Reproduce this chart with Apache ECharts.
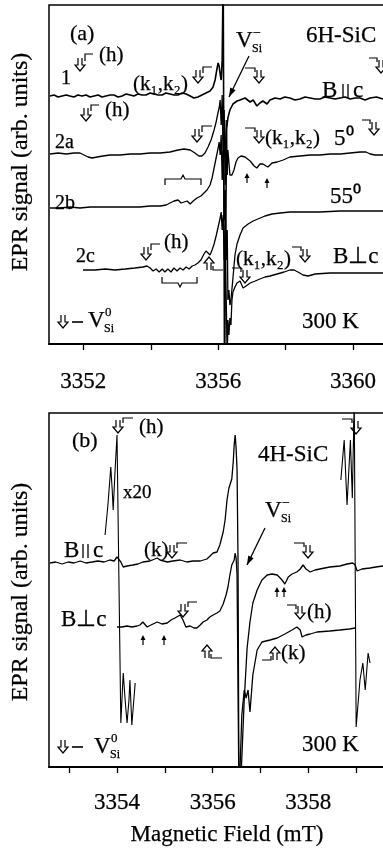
<!DOCTYPE html>
<html><head><meta charset="utf-8">
<script src="https://cdn.jsdelivr.net/npm/echarts@6.0.0/dist/echarts.min.js"></script>
<style>html,body{margin:0;padding:0;background:#fff;overflow:hidden;}#c{width:383px;height:852px;}</style>
</head><body><div id="c"></div>
<script>
// ---------- axis ticks / labels (mT) ----------
const TICKS_A = [3352, 3354, 3356, 3358, 3360];
const LABELS_A = [3352, 3356, 3360];
const TICKS_B = [3353, 3354, 3355, 3356, 3357, 3358, 3359];
const LABELS_B = [3354, 3356, 3358];

// ---------- panel (a) 6H-SiC : [field mT, signal arb.] ----------
const trace1 = [[3351.01,0],[3351.13,1],[3351.25,-1],[3351.37,0],[3351.49,1],[3351.60,0],[3351.72,-1],[3351.84,1],[3351.96,0],[3352.08,1],[3352.20,-1],[3352.32,0],[3352.44,1],[3352.55,-1],[3352.67,0],[3352.79,1],[3352.91,1],[3353.03,-1],[3353.15,0],[3353.27,2],[3353.39,1],[3353.50,0],[3353.62,2],[3353.74,1],[3353.86,1],[3353.98,3],[3354.10,2],[3354.22,1],[3354.34,1],[3354.45,3],[3354.57,2],[3354.69,1],[3354.81,1],[3354.93,3],[3355.05,2],[3355.17,0],[3355.28,-2],[3355.40,-1],[3355.52,1],[3355.64,3],[3355.76,5],[3355.85,9],[3355.91,16],[3355.97,28],[3356.00,33],[3356.03,30],[3356.06,22],[3356.09,16],[3356.12,36],[3356.15,126],[3356.19,-284],[3356.25,-34],[3356.29,-22],[3356.35,-14],[3356.44,-8],[3356.56,-5],[3356.65,-4],[3356.80,-2],[3356.95,-6],[3357.04,-4],[3357.15,-10],[3357.24,-7],[3357.33,-5],[3357.45,-8],[3357.54,-4],[3357.69,-2],[3357.84,-3],[3357.98,-1],[3358.13,-2],[3358.28,-4],[3358.43,-3],[3358.58,-1],[3358.73,-2],[3358.88,-3],[3359.02,-3],[3359.17,-1],[3359.32,-2],[3359.47,-3],[3359.62,-2],[3359.77,-1],[3359.92,-3],[3360.07,-2],[3360.21,-2],[3360.36,-4],[3360.51,-2],[3360.70,-1],[3360.89,-3],[3361.04,-2]];
const trace2a = [[3351.01,0],[3351.25,1],[3351.49,0],[3351.72,1],[3351.90,1],[3352.02,-1],[3352.14,-3],[3352.26,-4],[3352.41,-3],[3352.58,-2],[3352.79,-1],[3353.09,-1],[3353.39,0],[3353.68,0],[3353.98,1],[3354.28,1],[3354.57,2],[3354.81,4],[3354.99,5],[3355.17,4],[3355.31,1],[3355.43,-2],[3355.52,-2],[3355.61,1],[3355.70,7],[3355.79,14],[3355.88,24],[3355.94,32],[3356.00,42],[3356.03,46],[3356.06,54],[3356.09,29],[3356.12,59],[3356.15,-16],[3356.18,44],[3356.21,-31],[3356.24,34],[3356.27,-21],[3356.29,4],[3356.35,-21],[3356.41,-21],[3356.47,-16],[3356.53,-8],[3356.59,-4],[3356.68,-2],[3356.80,-3],[3356.95,-7],[3357.07,-12],[3357.15,-14],[3357.24,-10],[3357.33,-10],[3357.42,-12],[3357.48,-13],[3357.60,-9],[3357.75,-8],[3357.93,-6],[3358.13,-3],[3358.43,-2],[3358.73,-1],[3359.02,-1],[3359.32,0],[3359.62,0],[3359.92,1],[3360.21,2],[3360.39,2],[3360.51,0],[3360.66,-1],[3360.89,-1],[3361.04,-1]];
const trace2b = [[3351.01,-1],[3351.31,-1],[3351.61,0],[3351.90,-1],[3352.20,0],[3352.50,0],[3353.09,0],[3353.68,0],[3353.98,1],[3354.28,1],[3354.46,2],[3354.57,4],[3354.69,6],[3354.81,7],[3354.90,4],[3354.99,5],[3355.08,6],[3355.17,3],[3355.26,6],[3355.37,9],[3355.49,11],[3355.58,14],[3355.67,17],[3355.76,22],[3355.82,29],[3355.88,39],[3355.94,49],[3356.00,59],[3356.03,65],[3356.06,52],[3356.09,72],[3356.12,27],[3356.15,57],[3356.18,-13],[3356.21,17],[3356.24,-53],[3356.27,-23],[3356.29,-93],[3356.32,-83],[3356.35,-98],[3356.38,-93],[3356.44,-71],[3356.50,-48],[3356.56,-37],[3356.65,-28],[3356.74,-21],[3356.89,-17],[3357.04,-14],[3357.18,-12],[3357.39,-9],[3357.60,-7],[3357.84,-6],[3358.13,-5],[3358.43,-5],[3359.02,-5],[3359.62,-4],[3360.21,-4],[3360.89,-4],[3361.04,-4]];
const trace2c = [[3351.99,0],[3352.35,0],[3352.65,1],[3352.94,0],[3353.24,1],[3353.53,2],[3353.77,3],[3353.89,4],[3353.98,2],[3354.07,-1],[3354.16,1],[3354.25,-2],[3354.34,1],[3354.42,-2],[3354.51,1],[3354.60,-2],[3354.69,2],[3354.78,-1],[3354.87,2],[3354.96,0],[3355.05,3],[3355.14,1],[3355.23,4],[3355.31,5],[3355.40,7],[3355.49,10],[3355.58,16],[3355.64,19],[3355.70,17],[3355.76,15],[3355.82,20],[3355.88,26],[3355.94,34],[3356.00,43],[3356.06,52],[3356.09,58],[3356.12,40],[3356.15,55],[3356.18,10],[3356.21,30],[3356.24,-30],[3356.27,-90],[3356.29,-50],[3356.32,-65],[3356.35,-48],[3356.38,-55],[3356.41,-30],[3356.44,-22],[3356.50,-17],[3356.56,-13],[3356.65,-11],[3356.74,-18],[3356.83,-16],[3356.95,-13],[3357.10,-11],[3357.24,-9],[3357.39,-7],[3357.54,-6],[3357.75,-4],[3357.96,-2],[3358.13,0],[3358.25,0],[3358.37,-2],[3358.52,-5],[3358.67,-6],[3358.88,-4],[3359.32,-3],[3359.92,-3],[3360.89,-3],[3361.04,-3]];

// ---------- panel (b) 4H-SiC ----------
const bPar = [[3352.60,0],[3352.72,1],[3352.85,-1],[3352.98,1],[3353.10,0],[3353.23,2],[3353.35,0],[3353.48,1],[3353.60,2],[3353.73,1],[3353.85,3],[3353.94,2],[3354.00,6],[3354.04,8],[3354.08,1],[3354.13,-4],[3354.21,-3],[3354.33,-2],[3354.44,-1],[3354.54,1],[3354.69,2],[3354.84,5],[3354.90,3],[3355.05,1],[3355.17,2],[3355.32,3],[3355.46,1],[3355.59,2],[3355.74,2],[3355.88,4],[3356.01,10],[3356.09,11],[3356.15,18],[3356.22,31],[3356.26,43],[3356.30,63],[3356.34,75],[3356.38,81],[3356.40,84],[3356.43,101],[3356.45,118],[3356.47,128],[3356.49,115],[3356.51,93],[3356.53,3],[3356.55,-237],[3356.59,-217],[3356.66,-137],[3356.72,-85],[3356.78,-59],[3356.84,-40],[3356.93,-27],[3357.03,-17],[3357.14,-12],[3357.24,-11],[3357.35,-12],[3357.45,-17],[3357.51,-21],[3357.58,-14],[3357.66,-11],[3357.76,-9],[3357.83,-6],[3357.89,-2],[3357.95,-6],[3358.04,-9],[3358.14,-7],[3358.24,-6],[3358.45,-4],[3358.66,-3],[3358.81,-1],[3358.93,0],[3358.98,-2],[3359.02,-8],[3359.12,-6],[3359.29,-5],[3359.41,-4],[3359.56,-3],[3359.67,-3]];
const insetLeft = [[3353.75,28],[3353.81,58],[3353.87,96],[3353.90,73],[3353.92,53],[3353.96,93],[3354.00,128],[3354.04,-17],[3354.08,-160],[3354.13,-110],[3354.17,-137],[3354.21,-160],[3354.25,-137],[3354.27,-117],[3354.31,-162],[3354.38,-120]];
const insetRight = [[3358.68,83],[3358.75,123],[3358.81,58],[3358.88,123],[3358.92,65],[3358.96,163],[3359.00,-164],[3359.04,-164],[3359.08,-117],[3359.14,-100],[3359.19,-127],[3359.25,-90],[3359.29,-100]];
const bPerp = [[3354.00,0],[3354.10,0],[3354.21,1],[3354.31,0],[3354.42,1],[3354.48,2],[3354.54,5],[3354.63,0],[3354.71,2],[3354.84,5],[3354.94,3],[3355.05,4],[3355.13,7],[3355.21,9],[3355.32,12],[3355.38,7],[3355.44,0],[3355.53,1],[3355.61,-1],[3355.67,-1],[3355.74,2],[3355.80,5],[3355.88,7],[3355.94,10],[3356.01,12],[3356.09,14],[3356.15,16],[3356.22,23],[3356.28,32],[3356.32,40],[3356.36,52],[3356.40,62],[3356.43,60],[3356.45,67],[3356.47,74],[3356.49,69],[3356.51,52],[3356.55,-173],[3356.61,-88],[3356.66,-63],[3356.70,-71],[3356.74,-63],[3356.78,-85],[3356.84,-48],[3356.93,-23],[3357.03,-15],[3357.20,-13],[3357.35,-11],[3357.51,-7],[3357.66,-3],[3357.76,0],[3357.83,-3],[3357.87,-10],[3357.95,-8],[3358.04,-7],[3358.18,-5],[3358.45,-4],[3358.66,-3],[3358.86,-2],[3358.98,-1]];

// vertical offsets of the stacked spectra (arb. units)
const OFF_1 = 248, OFF_2A = 190, OFF_2B = 137, OFF_2C = 74;
const OFF_PAR = 204, OFF_PERP = 140;

const FONT = 'Liberation Serif';
const chart = echarts.init(document.getElementById('c'), null, {renderer: 'canvas'});
const shift = (arr, o) => arr.map(p => [p[0], p[1] + o]);
const ser = (data, xi, w) => ({type: 'line', xAxisIndex: xi, yAxisIndex: xi, data, showSymbol: false, symbol: 'none',
  lineStyle: {color: '#000', width: w || 1.3}, clip: true, silent: true, animation: false});

// ---------- annotation helpers ----------
const G = [];
const txt = (x, y, s, size, extra) => G.push(Object.assign({type: 'text', x, y, silent: true,
  style: {text: s, fontSize: size, fontFamily: FONT, fill: '#000', stroke: '#000', lineWidth: 0.25, align: 'left', verticalAlign: 'middle'}}, extra || {}));
const pl = (pts, w) => G.push({type: 'polyline', silent: true, shape: {points: pts}, style: {stroke: '#000', lineWidth: w || 1.2, fill: null}});
const dArrow = (cx, t) => pl([[cx-2,t],[cx-2,t+7],[cx-5,t+7],[cx,t+13],[cx+5,t+7],[cx+2,t+7],[cx+2,t]]);
const uArrow = (cx, b) => pl([[cx-2,b],[cx-2,b-7],[cx-5,b-7],[cx,b-13],[cx+5,b-7],[cx+2,b-7],[cx+2,b]]);
const thinUp = (cx, t) => { pl([[cx,t+10],[cx,t+3]], 1.2);
  G.push({type: 'polygon', silent: true, shape: {points: [[cx-2.5,t+5],[cx,t],[cx+2.5,t+5]]}, style: {fill: '#000'}}); };
const arrowLine = (x1, y1, x2, y2) => { pl([[x1,y1],[x2,y2]], 1.3);
  const a = Math.atan2(y2-y1, x2-x1), L = 9, W = 3;
  const bx = x2 - L*Math.cos(a), by = y2 - L*Math.sin(a);
  G.push({type: 'polygon', silent: true, shape: {points: [[x2,y2],[bx - W*Math.sin(a), by + W*Math.cos(a)],[bx + W*Math.sin(a), by - W*Math.cos(a)]]}, style: {fill: '#000'}}); };
const vsi = (x, y, sup) => { txt(x, y, 'V', 23); txt(x+16, y+8, 'Si', 12); txt(x+17, y-8, sup, sup === '0' ? 13 : 14); };
const bpar = (x, y, gap) => { txt(x, y, 'B', 23); pl([[x+gap,y-7],[x+gap,y+7]], 1.3); pl([[x+gap+5,y-7],[x+gap+5,y+7]], 1.3); txt(x+gap+10, y, 'c', 23); };

// panel (a)
txt(70, 34, '(a)', 22);
txt(306, 36, '6H-SiC', 23);
txt(61, 79, '1', 20);
dArrow(80, 58); pl([[85,61],[85,54],[93,54]]); txt(99, 55, '(h)', 21);
txt(133, 84, '(k₁,k₂)', 21);
dArrow(198, 70); pl([[203,73],[203,67],[212,67]]);
vsi(236, 41, '−'); arrowLine(249, 56, 229, 97);
pl([[245,68],[255,68],[255,72]]); dArrow(259, 70);
bpar(322, 91, 21);
pl([[369,58],[377,58],[377,62]]); dArrow(381, 60);
txt(55, 143, '2a', 20);
dArrow(86, 108); pl([[91,111],[91,105],[99,105]]); txt(105, 110, '(h)', 21);
dArrow(197, 129); pl([[202,132],[202,126],[212,126]]);
pl([[245,128],[255,128],[255,132]]); dArrow(259, 130); txt(265, 138, '(k₁,k₂)', 21);
txt(334, 139, '5⁰', 23);
pl([[362,120],[370,120],[370,124]]); dArrow(374, 122);
txt(55, 204, '2b', 20);
pl([[165,185],[165,179],[181,179],[183,175],[185,179],[201,179],[201,185]]);
thinUp(247, 173); thinUp(267, 178);
txt(330, 197, '55⁰', 23);
txt(76, 257, '2c', 20);
dArrow(146, 247); pl([[151,250],[151,244],[160,244]]); txt(164, 242, '(h)', 21);
pl([[162,277],[162,283],[178,283],[180,287],[182,283],[197,283],[197,277]]);
uArrow(209, 270); pl([[213,266],[213,270],[223,270]]);
txt(236, 259, '(k₁,k₂)', 21);
pl([[292,247],[301,247],[301,251]]); dArrow(305, 249);
pl([[232,268],[241,268],[241,272]]); dArrow(245, 270);
txt(333, 257, 'B⊥c', 23);
dArrow(63, 315); pl([[72,322],[83,322]], 1.6); vsi(88, 321, '0');
txt(302, 322, '300 K', 23);

// panel (b)
txt(72, 441, '(b)', 22);
dArrow(118, 420); pl([[123,423],[123,418],[133,418]]); txt(139, 427, '(h)', 21);
txt(123, 493, 'x20', 19);
bpar(64, 551, 19);
txt(144, 550, '(k)', 21); dArrow(172, 545); pl([[177,548],[177,543],[187,543]]);
txt(258, 455, '4H-SiC', 23);
vsi(265, 511, '−'); arrowLine(265, 528, 247, 565);
pl([[294,543],[304,543],[304,547]]); dArrow(308, 545);
pl([[342,419],[352,419],[352,423]]); dArrow(356, 421);
txt(61, 620, 'B⊥c', 23);
dArrow(183, 604); pl([[188,607],[188,602],[197,602]]);
thinUp(143, 635); thinUp(164, 635);
uArrow(207, 658); pl([[211,654],[211,658],[222,658]]);
thinUp(277, 587); thinUp(284, 587);
pl([[287,605],[296,605],[296,609]]); dArrow(300, 606); txt(307, 612, '(h)', 21);
pl([[262,660],[271,660],[271,656]]); uArrow(275, 660); txt(281, 653, '(k)', 21);
dArrow(63, 740); pl([[72,747],[83,747]], 1.6); vsi(94, 747, '0');
txt(302, 745, '300 K', 23);

// axis titles
txt(21, 162, 'EPR signal (arb. units)', 24, {rotation: Math.PI/2});
G[G.length-1].style.align = 'center';
txt(21, 592, 'EPR signal (arb. units)', 24, {rotation: Math.PI/2});
G[G.length-1].style.align = 'center';
txt(227, 835, 'Magnetic Field (mT)', 23);
G[G.length-1].style.align = 'center';

const xAx = (gi, min, max, ticks, labels, margin) => ({
  gridIndex: gi, type: 'value', min, max,
  axisLine: {show: true, onZero: false, lineStyle: {color: '#000', width: 2}},
  axisTick: {show: true, inside: false, length: 6, customValues: ticks, lineStyle: {color: '#000', width: 1.3}},
  axisLabel: {customValues: labels, fontSize: 23, fontFamily: FONT, color: '#000', margin,
    textBorderColor: '#000', textBorderWidth: 0.25, formatter: v => String(v)},
  splitLine: {show: false}
});

chart.setOption({
  animation: false,
  backgroundColor: '#fff',
  grid: [
    {left: 49, top: 5, width: 360, height: 339, show: true, borderColor: '#000', borderWidth: 1.5, backgroundColor: 'transparent', containLabel: false, outerBoundsMode: 'none'},
    {left: 49, top: 413, width: 360, height: 354, show: true, borderColor: '#000', borderWidth: 1.5, backgroundColor: 'transparent', containLabel: false, outerBoundsMode: 'none'}
  ],
  xAxis: [xAx(0, 3350.98, 3361.665, TICKS_A, LABELS_A, 26), xAx(1, 3352.578, 3360.105, TICKS_B, LABELS_B, 24)],
  yAxis: [
    {gridIndex: 0, type: 'value', min: 0, max: 339, show: false},
    {gridIndex: 1, type: 'value', min: 0, max: 354, show: false}
  ],
  series: [
    ser(shift(trace1, OFF_1), 0, 1.6),
    ser(shift(trace2a, OFF_2A), 0),
    ser(shift(trace2b, OFF_2B), 0),
    ser(shift(trace2c, OFF_2C), 0),
    ser(shift(bPar, OFF_PAR), 1),
    ser(shift(insetLeft, OFF_PAR), 1, 1.1),
    ser(shift(insetRight, OFF_PAR), 1, 1.1),
    ser(shift(bPerp, OFF_PERP), 1)
  ],
  graphic: G
});
</script></body></html>
